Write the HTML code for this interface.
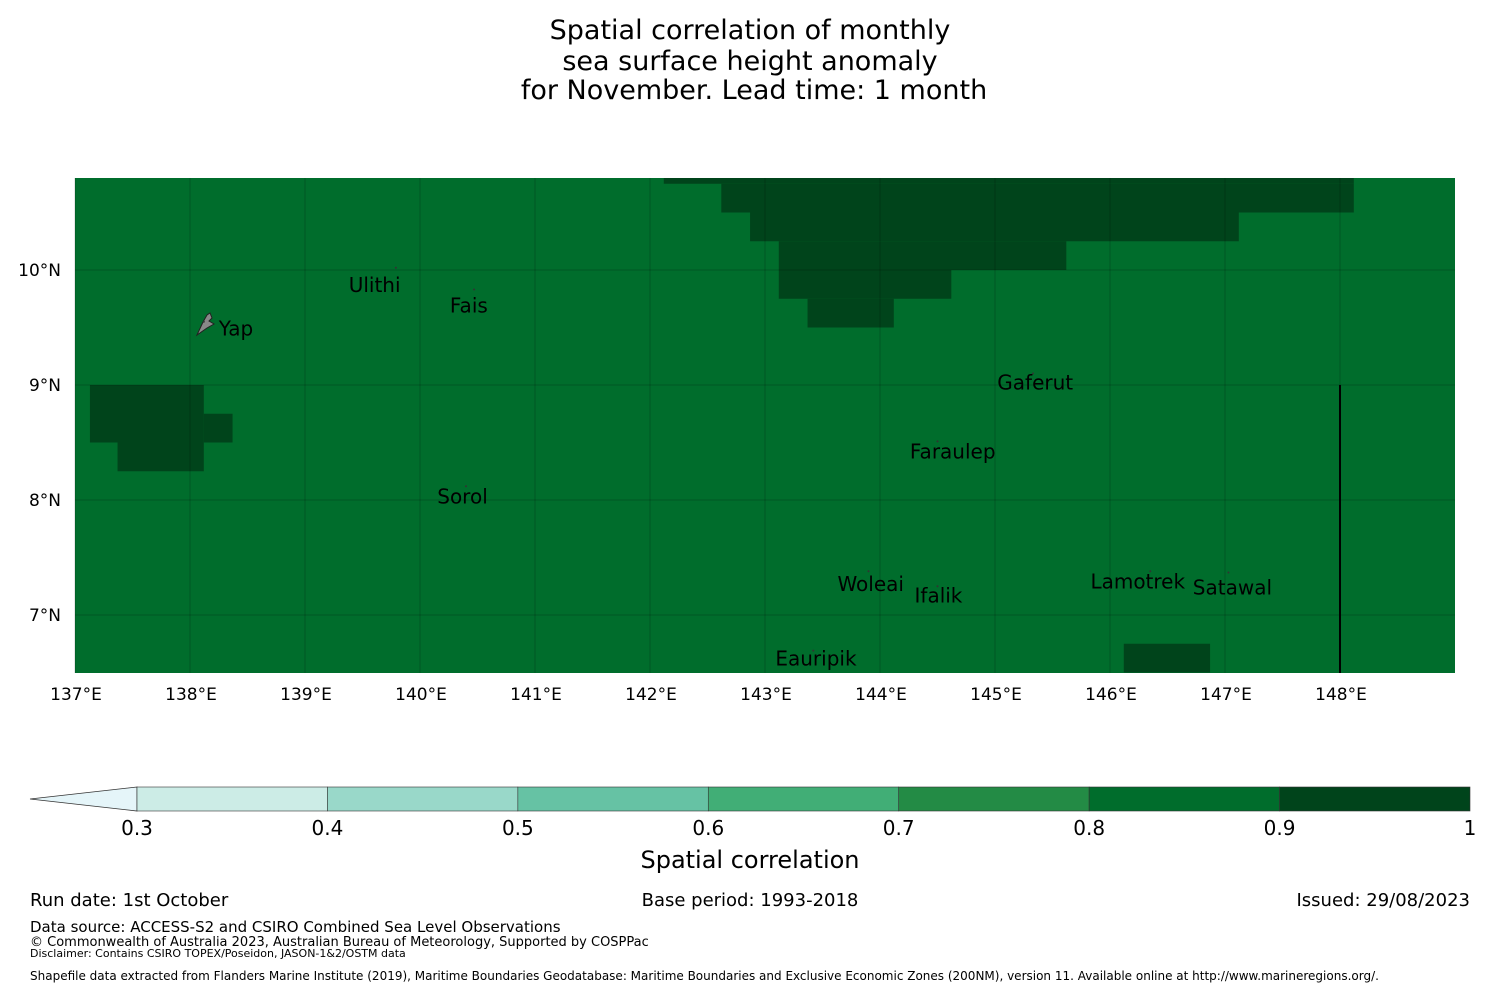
<!DOCTYPE html>
<html><head><meta charset="utf-8"><style>
body{margin:0;background:#fff;width:1500px;height:990px;overflow:hidden}
text{font-family:"DejaVu Sans","Liberation Sans",sans-serif}
</style></head><body>
<svg width="1500" height="990" xmlns="http://www.w3.org/2000/svg">
<g font-size="27" text-anchor="middle" fill="#000">
<text x="750" y="39">Spatial correlation of monthly</text>
<text x="750" y="70">sea surface height anomaly</text>
<text x="754" y="99">for November. Lead time: 1 month</text>
</g>
<g id="map"></g>
<g id="cbar"></g>
<text x="750" y="868" font-size="24" text-anchor="middle">Spatial correlation</text>
<g font-size="18">
<text x="30" y="906">Run date: 1st October</text>
<text x="750" y="906" text-anchor="middle">Base period: 1993-2018</text>
<text x="1470" y="906" text-anchor="end">Issued: 29/08/2023</text>
<text x="30" y="932" font-size="15">Data source: ACCESS-S2 and CSIRO Combined Sea Level Observations</text>
<text x="30" y="946" font-size="13">© Commonwealth of Australia 2023, Australian Bureau of Meteorology, Supported by COSPPac</text>
<text x="30" y="957" font-size="11">Disclaimer: Contains CSIRO TOPEX/Poseidon, JASON-1&amp;2/OSTM data</text>
<text x="30" y="980" font-size="12">Shapefile data extracted from Flanders Marine Institute (2019), Maritime Boundaries Geodatabase: Maritime Boundaries and Exclusive Economic Zones (200NM), version 11. Available online at http://www.marineregions.org/.</text>
</g>
</svg>
<script>
const lonTicks=[137,138,139,140,141,142,143,144,145,146,147,148];
const latTicks=[10,9,8,7];
// dark (0.9-1) regions: [lon0, lon1, lat0, lat1]
const darkRegions=[[142.12,148.12,10.75,10.8],[142.62,148.12,10.5,10.75],[142.87,147.12,10.25,10.5],[143.12,145.62,10.0,10.25],[143.12,144.62,9.75,10.0],[143.37,144.12,9.5,9.75],[137.13,138.12,8.5,9.0],[138.12,138.37,8.5,8.75],[137.37,138.12,8.25,8.5],[146.12,146.87,6.5,6.75]];
const placeNames=["Ulithi","Fais","Yap","Gaferut","Faraulep","Sorol","Woleai","Ifalik","Lamotrek","Satawal","Eauripik"];
const placeLon=[139.79,140.47,138.12,145.33,144.5,140.4,143.9,144.5,146.35,147.03,143.42];
const placeLat=[10.02,9.83,9.55,9.1,8.51,8.12,7.38,7.25,7.38,7.37,6.69];
const labelLon=[139.38,140.26,138.25,145.02,144.26,140.15,143.63,144.3,145.83,146.72,143.09];
const labelLat=[9.81,9.63,9.43,8.96,8.36,7.97,7.21,7.11,7.23,7.18,6.56];
const cbLevels=[0.3,0.4,0.5,0.6,0.7,0.8,0.9,1];
const cbColors=["#ccece6","#99d8c9","#66c2a4","#41ae76","#238b45","#006d2c","#00441b"];
const NS="http://www.w3.org/2000/svg";
const X0=75,X1=1455,Y0=178,Y1=673;
const xs=l=>75+(l-137)*115, ys=l=>270-(l-10)*115;
function mk(t,a,p){const e=document.createElementNS(NS,t);for(const k in a)e.setAttribute(k,a[k]);p.appendChild(e);return e;}
const map=document.getElementById('map');
const bg=mk('rect',{x:X0,y:Y0,width:X1-X0,height:Y1-Y0,fill:'#006d2c'},map);


darkRegions.forEach(r=>{const x=xs(r[0]),x2=xs(r[1]),y=ys(r[3]),y2=ys(r[2]);
const e=mk('rect',{x:x,y:y,width:x2-x,height:y2-y,fill:'#00441b'},map);

});
lonTicks.forEach(l=>{const x=xs(l);
const g=mk('line',{x1:x,x2:x,y1:Y0,y2:Y1,stroke:'#000','stroke-opacity':0.2,'stroke-width':1},map);


const t=mk('text',{x:x+1,y:700,'font-size':17,'text-anchor':'middle'},map);t.textContent=l+'°E';

});
latTicks.forEach(l=>{const y=ys(l);
const g=mk('line',{x1:X0,x2:X1,y1:y,y2:y,stroke:'#000','stroke-opacity':0.2,'stroke-width':1},map);


const t=mk('text',{x:61,y:y+6,'font-size':17,'text-anchor':'end'},map);t.textContent=l+'°N';

});
const bl=mk('line',{x1:xs(148),x2:xs(148),y1:ys(9),y2:Y1,stroke:'#000','stroke-width':2},map);


const yap=mk('path',{d:'M197 335 L203 322 L207 315 L210 313 L212 318 L209 321 L214 324 L207 328 Z',fill:'#888',stroke:'#222','stroke-width':1},map);


placeNames.forEach((n,i)=>{
const d=mk('circle',{cx:xs(placeLon[i]),cy:ys(placeLat[i]),r:1,fill:'#333'},map);


const t=mk('text',{x:xs(labelLon[i]),y:ys(labelLat[i]),'font-size':20,fill:'#000'},map);t.textContent=n;

});
const cb=document.getElementById('cbar');
const CX0=137,CX1=1470,CY=787,CH=24,cx=v=>CX0+(v-0.3)/0.7*(CX1-CX0);
const tri=mk('path',{d:`M${CX0} ${CY} L30 ${CY+CH/2} L${CX0} ${CY+CH} Z`,fill:'#e5f5f9',stroke:'#333','stroke-width':0.8},cb);


cbColors.forEach((c,i)=>{const x=cx(cbLevels[i]),x2=cx(cbLevels[i+1]);
const r=mk('rect',{x:x,y:CY,width:x2-x,height:CH,fill:c,stroke:'#333','stroke-width':0.6},cb);

});
cbLevels.forEach(v=>{const t=mk('text',{x:cx(v),y:835,'font-size':20,'text-anchor':'middle'},cb);
t.textContent=(v===1?'1':v.toFixed(1));

});
</script>
</body></html>
